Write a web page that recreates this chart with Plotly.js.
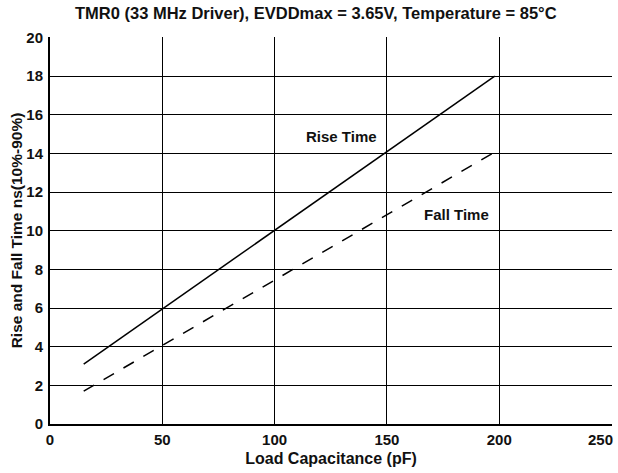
<!DOCTYPE html>
<html><head><meta charset="utf-8">
<script src="https://cdn.plot.ly/plotly-3.0.1.min.js"></script>
<style>html,body{margin:0;padding:0;background:#fff}</style>
</head><body>
<div id="chart" style="width:618px;height:473px"></div>
<script>
const riseX = [15, 198];
const riseY = [3.1, 18];
const fallX = [15, 197];
const fallY = [1.7, 14];
const xTicks = [0, 50, 100, 150, 200, 250];
const yTicks = [0, 2, 4, 6, 8, 10, 12, 14, 16, 18, 20];
const labels = [
  {text: 'Rise Time', x: 129.6, y: 14.88},
  {text: 'Fall Time', x: 180.8, y: 10.84}
];
const font = 'Liberation Sans, Arial, sans-serif';
const lastX = xTicks[xTicks.length - 1];
const data = [
  {x: riseX, y: riseY, mode: 'lines', line: {color: '#000', width: 1.5}, hoverinfo: 'skip'},
  {x: fallX, y: fallY, mode: 'lines', line: {color: '#000', width: 1.5, dash: '12px,11px'}, hoverinfo: 'skip'}
];
const annotations = labels.map(l => ({x: l.x, y: l.y, xref: 'x', yref: 'y', text: '<b>' + l.text + '</b>', showarrow: false, font: {size: 15, family: font, color: '#111'}}));
annotations.push({x: lastX, y: 0, xref: 'x', yref: 'y', xanchor: 'right', yanchor: 'top', yshift: -5, xshift: 3,
  text: '<b>' + lastX + '</b>', showarrow: false, font: {size: 15, family: font, color: '#111'}});
const layout = {
  width: 618, height: 473,
  margin: {l: 50, r: 6, t: 37, b: 49},
  showlegend: false,
  paper_bgcolor: '#fff', plot_bgcolor: '#fff',
  font: {family: font, color: '#111', size: 15},
  title: {text: '<b>TMR0 (33 MHz Driver), EVDDmax = 3.65V, Temperature = 85°C</b>', x: 0.511, xanchor: 'center', y: 0.971, yanchor: 'middle', font: {size: 16.5, family: font, color: '#111'}},
  xaxis: {range: [0, 250.2], tickvals: xTicks, ticktext: xTicks.map(v => v === lastX ? '' : '<b>' + v + '</b>'),
    showgrid: true, gridcolor: '#000', gridwidth: 1, showline: true, linecolor: '#000', linewidth: 2,
    zeroline: false, ticks: '', ticklabelstandoff: 1, tickfont: {size: 15, family: font},
    title: {text: '<b>Load Capacitance (pF)</b>', standoff: 6, font: {size: 16, family: font}}},
  yaxis: {range: [0, 20.02], tickvals: yTicks, ticktext: yTicks.map(v => '<b>' + v + '</b>'),
    showgrid: true, gridcolor: '#000', gridwidth: 1, showline: true, linecolor: '#000', linewidth: 2,
    zeroline: false, ticks: '', ticklabelstandoff: 2, tickfont: {size: 15, family: font},
    title: {text: '<b>Rise and Fall Time ns(10%-90%)</b>', standoff: 0, font: {size: 15.5, family: font}}},
  annotations: annotations
};
Plotly.newPlot('chart', data, layout, {displayModeBar: false, staticPlot: true});
</script>
</body></html>
